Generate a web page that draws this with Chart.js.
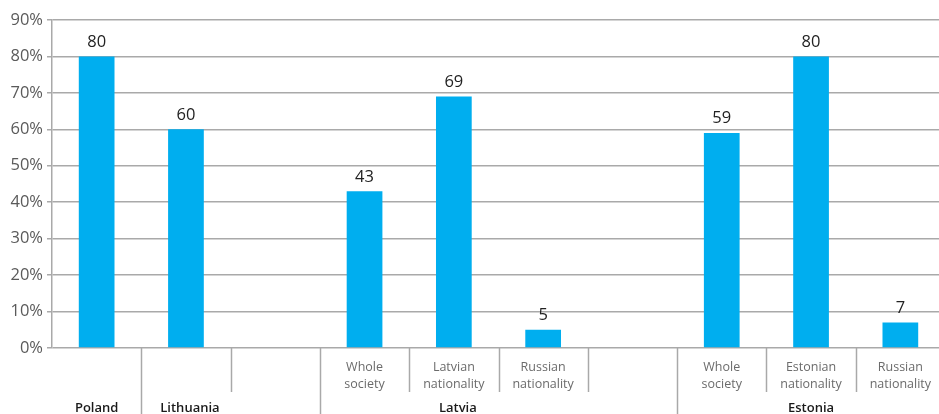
<!DOCTYPE html>
<html>
<head>
<meta charset="utf-8">
<script src="https://cdn.jsdelivr.net/npm/chart.js@4.4.0/dist/chart.umd.min.js"></script>
<style>
  html, body { margin: 0; padding: 0; background: #fff; overflow: hidden; }
  #wrap { position: relative; width: 945px; height: 414px; }
</style>
</head>
<body>
<div id="wrap"><canvas id="chart"></canvas></div>
<script>
// category slots (empty slots are spacers between countries)
const categories = [
    '', '', '',
    ['Whole', 'society'], ['Latvian', 'nationality'], ['Russian', 'nationality'],
    '',
    ['Whole', 'society'], ['Estonian', 'nationality'], ['Russian', 'nationality']
];
const values = [80, 60, null, 43, 69, 5, null, 59, 80, 7];
const yTicks = [0, 10, 20, 30, 40, 50, 60, 70, 80, 90];

// outer row: country names and the slots they cover
const groupNames = ['Poland', 'Lithuania', 'Latvia', 'Estonia'];
const groupFrom = [0, 1, 3, 7];
const groupTo = [0, 1, 5, 9];

const lineGray = '#a9a9a9';
const fontFamily = '"Open Sans", "DejaVu Sans", sans-serif';

const valueLabels = {
    id: 'valueLabels',
    afterDatasetsDraw(chart) {
        const ctx = chart.ctx;
        const meta = chart.getDatasetMeta(0);
        ctx.save();
        ctx.fillStyle = '#222';
        ctx.font = '16.5px ' + fontFamily;
        ctx.textAlign = 'center';
        ctx.textBaseline = 'bottom';
        meta.data.forEach((bar, i) => {
            if (values[i] == null) return;
            ctx.fillText(String(values[i]), bar.x, bar.y - 6);
        });
        ctx.restore();
    }
};

// vertical dividers under the axis plus the country row
const groupAxis = {
    id: 'groupAxis',
    afterDraw(chart) {
        const ctx = chart.ctx;
        const x = chart.scales.x;
        const area = chart.chartArea;
        const half = (x.getPixelForValue(1) - x.getPixelForValue(0)) / 2;
        const edge = k => x.getPixelForValue(k) - half;
        const bottom = chart.height;
        ctx.save();
        ctx.strokeStyle = lineGray;
        ctx.lineWidth = 1.5;
        for (let k = 1; k < categories.length; k++) {
            const full = groupFrom.includes(k);
            const px = Math.round(edge(k)) + 0.5;
            ctx.beginPath();
            ctx.moveTo(px, area.bottom);
            ctx.lineTo(px, full ? bottom : area.bottom + 44);
            ctx.stroke();
        }
        ctx.fillStyle = '#1a1a1a';
        ctx.font = '600 13px ' + fontFamily;
        ctx.textAlign = 'center';
        ctx.textBaseline = 'middle';
        groupNames.forEach((name, g) => {
            const cx = (edge(groupFrom[g]) + edge(groupTo[g] + 1)) / 2;
            ctx.fillText(name, cx + (g === 1 || g === 2 ? 4 : 0), area.bottom + 60);
        });
        ctx.restore();
    }
};

new Chart(document.getElementById('chart'), {
    type: 'bar',
    data: {
        labels: categories,
        datasets: [{
            data: values,
            backgroundColor: '#00aeef',
            barPercentage: 0.4,
            categoryPercentage: 1.0
        }]
    },
    options: {
        responsive: true,
        maintainAspectRatio: false,
        animation: false,
        layout: { padding: { top: 20, right: 0, bottom: 0, left: 0 } },
        plugins: {
            legend: { display: false },
            tooltip: { enabled: false }
        },
        scales: {
            x: {
                grid: { display: false },
                border: { display: false },
                ticks: {
                    color: '#6b6b6b',
                    font: { family: fontFamily, size: 12.5, lineHeight: 1.36 },
                    padding: 3,
                    maxRotation: 0,
                    autoSkip: false
                },
                afterFit: scale => { scale.height = 66; }
            },
            y: {
                min: 0,
                max: 90,
                afterBuildTicks: scale => { scale.ticks = yTicks.map(v => ({ value: v })); },
                grid: { color: lineGray, lineWidth: 1.5, tickLength: 5 },
                border: { color: lineGray, width: 1.5 },
                ticks: {
                    color: '#5a5a5a',
                    font: { family: fontFamily, size: 16.5 },
                    padding: 4,
                    callback: v => v + '%'
                },
                afterFit: scale => { scale.width = 52; }
            }
        }
    },
    plugins: [valueLabels, groupAxis]
});
</script>
</body>
</html>
